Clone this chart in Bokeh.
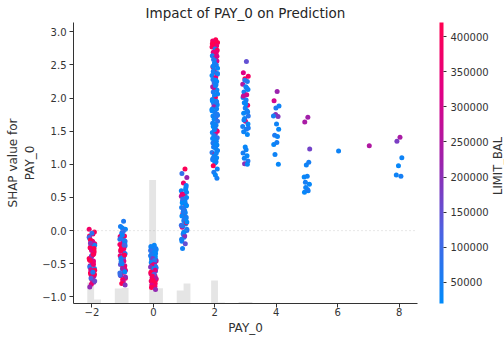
import numpy as np
from bokeh.plotting import figure
from bokeh.layouts import row
from bokeh.models import (Range1d, FixedTicker, ColorBar, LinearColorMapper, Span,
                          ColumnDataSource, CustomJSTickFormatter)
from bokeh.core.properties import value
from bokeh.embed import file_html
from bokeh.resources import INLINE

# ---------------- data ----------------
TITLE = "Impact of PAY_0 on Prediction"
X_LABEL = "PAY_0"
Y_LABEL = "SHAP value for\nPAY_0"
CBAR_LABEL = "LIMIT_BAL"

X_TICKS = [-2, 0, 2, 4, 6, 8]
X_TICK_LABELS = ["\u22122", "0", "2", "4", "6", "8"]
Y_TICKS = [-1.0, -0.5, 0.0, 0.5, 1.0, 1.5, 2.0, 2.5, 3.0]
Y_TICK_LABELS = ["\u22121.0", "\u22120.5", "0.0", "0.5", "1.0", "1.5", "2.0", "2.5", "3.0"]
CBAR_TICKS = [50000, 100000, 150000, 200000, 250000, 300000, 350000, 400000]
CBAR_TICK_LABELS = ["50000", "100000", "150000", "200000", "250000", "300000", "350000", "400000"]
CBAR_LOW = 20000
CBAR_HIGH = 420000

X_LIMITS = (-2.6, 8.6)
Y_LIMITS = (-1.10, 3.14)

# histogram of PAY_0 (50 equal bins over the x limits), out of HIST_TOTAL rows
HIST_TOTAL = 6000
HIST_COUNTS = [0, 0, 450, 86, 0, 0, 321, 330, 0, 0,
               0, 2636, 328, 0, 0, 279, 429, 0, 0, 0,
               493, 20, 0, 0, 34, 30, 0, 0, 0, 14,
               0, 0, 0, 9, 2, 0, 0, 0, 1, 0,
               0, 0, 1, 0, 0, 0, 0, 7, 0, 0]

# horizontal jitter offsets (read per point)
JITTER = [0.03, -0.07, 0.09, -0.02, 0.06, -0.09, 0.01, 0.08, -0.05, 0.04,
          -0.08, 0.02, -0.04, 0.07, -0.01, 0.05, -0.06, 0.09, -0.03, 0.00,
          0.08, -0.09, 0.03, -0.06, 0.06, -0.02, 0.04, -0.07, 0.01, 0.07,
          -0.05, 0.09, -0.01, 0.02, -0.08, 0.05, -0.04, 0.08, -0.03, 0.06,
          -0.09, 0.00, 0.07, -0.06, 0.03, -0.02, 0.09, -0.07, 0.04, -0.05,
          0.01, 0.06, -0.08, 0.02, -0.03, 0.08, -0.01, 0.05, -0.06, 0.07,
          -0.04, 0.03, 0.09, -0.09, 0.00, -0.02, 0.06, -0.07, 0.04, 0.01,
          -0.05, 0.08, -0.03, 0.02, 0.07, -0.08, 0.05, -0.01, -0.06, 0.09,
          0.03, -0.04, 0.00, 0.06, -0.09, 0.04, -0.02, 0.08, -0.07, 0.01,
          0.05, -0.03, 0.07, -0.05, 0.02, -0.08, 0.09, -0.01, 0.03, -0.06]

# SHAP values (Y_*) and LIMIT_BAL in thousands (C_*) for each PAY_0 value
Y_M2 = [-0.05, -0.12, -0.20, -0.28, -0.35, -0.42, -0.50, -0.57, -0.64, -0.70,
        -0.08, -0.16, -0.24, -0.31, -0.38, -0.46, -0.53, -0.60, -0.67, -0.74,
        -0.02, -0.10, -0.18, -0.26, -0.33, -0.40, -0.48, -0.55, -0.62, -0.68,
        -0.14, -0.22, -0.30, -0.37, -0.44, -0.51, -0.59, -0.66, -0.72, -0.78,
        0.02, -0.04, -0.27, -0.45, -0.63, -0.81, -0.76, -0.85, -0.36, -0.19]
C_M2 = [360, 50, 400, 200, 330, 450, 280, 60, 500, 180,
        420, 380, 150, 420, 70, 320, 240, 480, 390, 350,
        410, 110, 300, 440, 460, 220, 360, 80, 390, 260,
        500, 50, 340, 170, 420, 370, 300, 440, 120, 200,
        380, 80, 430, 500, 60, 350, 160, 210, 410, 190]

Y_M1 = [0.14, 0.06, 0.02, -0.03, -0.08, -0.13, -0.18, -0.23, -0.28, -0.33,
        -0.38, -0.43, -0.48, -0.53, -0.58, -0.63, -0.68, -0.72, -0.05, -0.11,
        -0.16, -0.21, -0.26, -0.31, -0.36, -0.41, -0.46, -0.51, -0.56, -0.61,
        -0.66, -0.70, 0.04, -0.01, -0.09, -0.15, -0.24, -0.35, -0.44, -0.55,
        -0.64, -0.74, -0.20, -0.30, -0.40, -0.50, -0.60, -0.12, -0.27, -0.47,
        -0.57, -0.37, -0.67, -0.77, -0.80, -0.82, -0.07, -0.22, -0.42, -0.62]
C_M1 = [60, 50, 30, 90, 400, 70, 320, 40, 450, 180,
        360, 60, 500, 280, 80, 420, 200, 350, 20, 480,
        110, 380, 30, 260, 440, 70, 330, 150, 470, 50,
        300, 210, 40, 80, 360, 60, 420, 30, 250, 380,
        90, 460, 30, 500, 140, 40, 340, 70, 390, 60,
        230, 410, 100, 300, 420, 190, 40, 120, 50, 20]

Y_0 = [-0.22, -0.26, -0.29, -0.32, -0.35, -0.38, -0.41, -0.44, -0.47, -0.50,
       -0.24, -0.28, -0.31, -0.34, -0.37, -0.40, -0.43, -0.46, -0.49, -0.52,
       -0.27, -0.30, -0.33, -0.36, -0.39, -0.42, -0.45, -0.48, -0.51, -0.54,
       -0.53, -0.56, -0.59, -0.62, -0.65, -0.68, -0.71, -0.74, -0.77, -0.80,
       -0.55, -0.58, -0.61, -0.64, -0.67, -0.70, -0.73, -0.76, -0.79, -0.82,
       -0.57, -0.60, -0.63, -0.66, -0.69, -0.72, -0.75, -0.84, -0.86, -0.89]
C_0 = [30, 50, 20, 80, 40, 60, 150, 30, 90, 200,
       40, 20, 70, 30, 110, 50, 30, 240, 60, 40,
       50, 80, 30, 60, 20, 180, 70, 40, 300, 90,
       380, 60, 420, 240, 330, 460, 300, 500, 80, 350,
       200, 410, 90, 350, 280, 480, 440, 390, 440, 320,
       50, 330, 470, 130, 400, 260, 430, 380, 450, 210]

Y_1 = [0.93, 0.86, 0.80, 0.72, 0.65, 0.60, 0.55, 0.50, 0.45, 0.40,
       0.35, 0.30, 0.25, 0.20, 0.15, 0.10, 0.05, 0.00, -0.05, -0.10,
       0.58, 0.52, 0.47, 0.42, 0.37, 0.32, 0.27, 0.22, 0.17, 0.12,
       0.07, 0.02, -0.03, -0.08, -0.13, 0.62, 0.48, 0.38, 0.28, 0.18,
       0.08, -0.02, 0.68, 0.55, 0.43, 0.33, 0.13, -0.16, -0.20, -0.27]
C_1 = [410, 90, 220, 380, 60, 40, 450, 30, 70, 300,
       50, 20, 400, 60, 40, 30, 350, 80, 60, 30,
       40, 260, 60, 20, 70, 420, 40, 30, 80, 500,
       40, 60, 30, 200, 50, 30, 80, 20, 60, 40,
       90, 30, 40, 350, 30, 60, 20, 40, 150, 40]

Y_2 = [2.88, 2.86, 2.84, 2.81, 2.79, 2.77, 2.74, 2.72, 2.69, 2.66,
       2.64, 2.61, 2.58, 2.56, 2.53, 2.50, 2.47, 2.45, 2.42, 2.39,
       2.36, 2.34, 2.31, 2.28, 2.25, 2.23, 2.20, 2.17, 2.14, 2.12,
       2.09, 2.06, 2.03, 2.01, 1.98, 1.95, 1.92, 1.90, 1.87, 1.84,
       1.81, 1.79, 1.76, 1.73, 1.70, 1.68, 1.65, 1.62, 1.59, 1.57,
       1.54, 1.51, 1.48, 1.46, 1.43, 1.40, 1.37, 1.35, 1.32, 1.29,
       1.26, 1.24, 1.21, 1.18, 1.15, 1.13, 1.10, 1.07, 1.04, 1.02,
       0.98, 0.93, 0.88, 0.84, 0.79, 2.82, 2.70, 2.59, 2.48, 2.37,
       2.27, 2.16, 2.05, 1.94, 1.83, 1.72, 1.61, 1.50, 1.39, 1.28,
       1.17, 1.06, 2.63, 2.40, 2.19, 1.96, 1.74, 1.52, 1.30, 1.09]
C_2 = [420, 380, 450, 500, 360, 400, 60, 470, 330, 410,
       50, 390, 80, 300, 40, 60, 430, 30, 70, 250,
       40, 30, 350, 60, 20, 80, 50, 200, 30, 40,
       60, 30, 40, 400, 50, 20, 70, 30, 220, 40,
       30, 50, 60, 40, 320, 30, 80, 50, 40, 20,
       60, 40, 30, 180, 50, 70, 30, 40, 60, 30,
       50, 30, 40, 70, 380, 40, 30, 60, 50, 30,
       450, 40, 60, 30, 50, 440, 350, 60, 40, 50,
       30, 260, 40, 60, 30, 50, 40, 360, 30, 60,
       40, 30, 300, 50, 40, 30, 60, 40, 30, 50]

Y_3 = [2.55, 2.38, 2.33, 2.29, 2.25, 2.21, 2.17, 2.13, 2.09, 2.05,
       2.01, 1.97, 1.93, 1.89, 1.85, 1.81, 1.77, 1.73, 1.69, 1.65,
       1.61, 1.57, 1.53, 1.49, 1.45, 2.27, 2.15, 2.03, 1.91, 1.79,
       1.67, 1.55, 1.26, 1.22, 1.17, 1.13, 1.09, 1.05, 1.01, 1.00]
C_3 = [150, 320, 380, 400, 60, 250, 40, 30, 50, 300,
       40, 60, 30, 380, 50, 40, 30, 70, 40, 350,
       30, 50, 60, 40, 30, 70, 40, 280, 30, 50,
       40, 60, 30, 40, 50, 30, 40, 60, 200, 30]

Y_4 = [2.10, 1.96, 1.88, 1.75, 1.72, 1.73, 1.61, 1.53, 1.44, 1.42, 1.30, 1.33, 1.15, 1.00, 1.85]
C_4 = [220, 300, 40, 200, 190, 50, 40, 30, 60, 40, 30, 50, 40, 30, 60]

Y_5 = [1.71, 1.64, 1.23, 0.99, 1.03, 0.81, 0.82, 0.70, 0.73, 0.60, 0.58, 0.62, 0.65]
C_5 = [230, 240, 170, 40, 50, 30, 40, 30, 50, 40, 30, 60, 40]

Y_6 = [1.20]
C_6 = [40]
Y_7 = [1.28]
C_7 = [250]
Y_8 = [1.41, 1.35, 1.10, 0.98, 0.82, 0.84]
C_8 = [240, 180, 40, 30, 50, 40]

PAY_VALUES = [-2, -1, 0, 1, 2, 3, 4, 5, 6, 7, 8]
Y_GROUPS = [Y_M2, Y_M1, Y_0, Y_1, Y_2, Y_3, Y_4, Y_5, Y_6, Y_7, Y_8]
C_GROUPS = [C_M2, C_M1, C_0, C_1, C_2, C_3, C_4, C_5, C_6, C_7, C_8]

# ---------------- build ----------------
xs, ys, cs = [], [], []
for pv, yg, cg in zip(PAY_VALUES, Y_GROUPS, C_GROUPS):
    for i, (yv, cv) in enumerate(zip(yg, cg)):
        xs.append(pv + JITTER[i % len(JITTER)])
        ys.append(yv)
        cs.append(cv * 1000)
src = ColumnDataSource(dict(x=xs, y=ys, c=cs))

# red-blue palette (shap style)
anchors = np.array([[0, 139, 251], [75, 99, 227], [155, 35, 173], [224, 0, 134], [255, 0, 81]], float)
t = np.linspace(0, 1, 256)
at = np.linspace(0, 1, len(anchors))
pal = []
for tt in t:
    r = np.interp(tt, at, anchors[:, 0]); g = np.interp(tt, at, anchors[:, 1]); b = np.interp(tt, at, anchors[:, 2])
    pal.append("#%02x%02x%02x" % (int(round(r)), int(round(g)), int(round(b))))
mapper = LinearColorMapper(palette=pal, low=CBAR_LOW, high=CBAR_HIGH)

FONT = "DejaVu Sans"
TXT = "#333333"
LABEL_W = 13

p = figure(width=504 - LABEL_W, height=337, x_range=Range1d(*X_LIMITS), y_range=Range1d(*Y_LIMITS),
           output_backend="svg", toolbar_location=None,
           min_border_left=73, min_border_right=84 - LABEL_W, min_border_bottom=34, min_border_top=0)
p.extra_y_ranges = {"hist": Range1d(0, HIST_TOTAL)}
p.grid.visible = False
p.outline_line_color = None
p.background_fill_color = "white"

p.title.text = TITLE
p.title.align = "center"
p.title.text_font = FONT
p.title.text_font_size = "13.5px"
p.title.text_font_style = "normal"
p.title.text_color = "#262626"
p.title.standoff = 4

def fmt(vals, labels):
    return CustomJSTickFormatter(args=dict(tvals=vals, tlabels=labels), code="""
        let best = 0;
        for (let i = 0; i < tvals.length; i++) {
            if (Math.abs(tvals[i] - tick) < Math.abs(tvals[best] - tick)) best = i;
        }
        return tlabels[best];
    """)

for ax, ticks, labels, lab in [(p.xaxis[0], X_TICKS, X_TICK_LABELS, X_LABEL),
                               (p.yaxis[0], Y_TICKS, Y_TICK_LABELS, Y_LABEL)]:
    ax.ticker = FixedTicker(ticks=ticks)
    ax.formatter = fmt(ticks, labels)
    ax.axis_label = lab
    ax.axis_label_text_font = FONT
    ax.axis_label_text_font_size = "12px"
    ax.axis_label_text_font_style = "normal"
    ax.axis_label_text_color = TXT
    ax.major_label_text_font = FONT
    ax.major_label_text_font_size = "10px"
    ax.major_label_text_color = TXT
    ax.axis_line_color = TXT
    ax.major_tick_line_color = TXT
    ax.major_tick_out = 4
    ax.major_tick_in = 0
    ax.minor_tick_line_color = None
p.yaxis[0].major_label_standoff = 3
p.yaxis[0].axis_label_standoff = 2
p.xaxis[0].major_label_standoff = 0
p.xaxis[0].axis_label_standoff = 2

# histogram
edges = np.linspace(X_LIMITS[0], X_LIMITS[1], len(HIST_COUNTS) + 1)
hc = np.array(HIST_COUNTS)
nz = hc > 0
p.quad(left=edges[:-1][nz], right=edges[1:][nz], bottom=0, top=hc[nz], y_range_name="hist",
       fill_color="black", fill_alpha=0.1, line_color=None)

p.add_layout(Span(location=0, dimension="width", line_color="#999999", line_width=0.6,
                  line_dash="1 3", line_alpha=0.8))

p.scatter("x", "y", source=src, size=5, line_color=None,
          fill_color={"field": "c", "transform": mapper})

cb = ColorBar(color_mapper=mapper, ticker=FixedTicker(ticks=CBAR_TICKS),
              formatter=fmt(CBAR_TICKS, CBAR_TICK_LABELS),
              width=4, height=281, padding=0, margin=0, location=(22, 0),
              major_tick_out=3, major_tick_in=0, major_tick_line_color=TXT,
              major_label_text_font=FONT, major_label_text_font_size="10px",
              major_label_text_color=TXT, label_standoff=4,
              bar_line_color=None, border_line_color=None, background_fill_color=None)
p.add_layout(cb, "right")

# narrow strip holding the rotated colour-bar label
q = figure(width=LABEL_W, height=337, x_range=Range1d(0, 1), y_range=Range1d(0, 337),
           output_backend="svg", toolbar_location=None,
           min_border_left=0, min_border_right=0, min_border_top=0, min_border_bottom=0)
q.axis.visible = False
q.grid.visible = False
q.outline_line_color = None
q.text(x=[0.5], y=[165], text=[CBAR_LABEL], angle=np.pi / 2, text_align="center",
       text_baseline="middle", text_font=value(FONT), text_font_size="11.5px", text_color=TXT)

open("out.html", "w").write(file_html(row(p, q), INLINE))
